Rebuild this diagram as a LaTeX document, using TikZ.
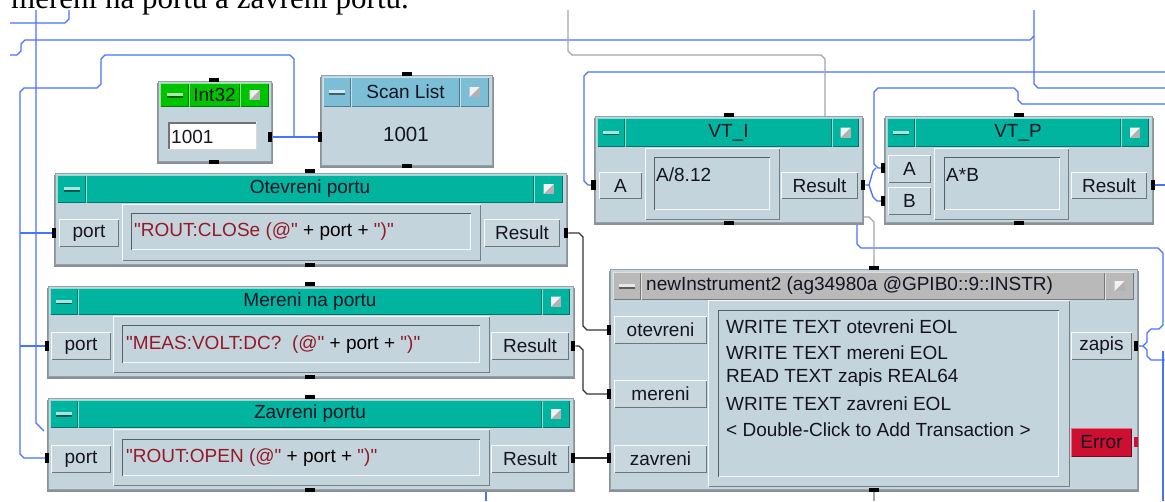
\documentclass[tikz,border=0pt]{standalone}
\usepackage{fontspec}
\setmainfont{Liberation Sans}
\newfontfamily\docserif{Liberation Serif}
\pgfdeclarelayer{back}
\pgfdeclarelayer{bg}
\pgfsetlayers{back,bg,main}
\definecolor{bodyc}{RGB}{196,212,220}
\definecolor{labc}{RGB}{200,215,222}
\definecolor{edgec}{RGB}{150,162,168}
\definecolor{shadc}{RGB}{135,145,150}
\definecolor{tealc}{RGB}{0,180,160}
\definecolor{greenc}{RGB}{0,195,0}
\definecolor{scanc}{RGB}{125,190,215}
\definecolor{greyt}{RGB}{185,185,185}
\definecolor{errc}{RGB}{205,15,50}
\definecolor{wireb}{RGB}{70,115,255}
\definecolor{wireg}{RGB}{165,165,165}
\definecolor{strc}{RGB}{150,25,40}
\definecolor{txtc}{RGB}{20,20,35}
\newcommand\vf{\fontsize{19}{22}\selectfont}
\newcommand\dq{\XeTeXglyph\XeTeXcharglyph"22\relax}
\newcommand\rnode[7]{%
  \pgfmathsetmacro\rw{(#5)-(#3)}%
  \pgfmathsetmacro\rh{(#6)-(#4)}%
  \node[inner sep=0pt, outer sep=0pt, minimum width=\rw pt, minimum height=\rh pt, anchor=north west, #1] (#2) at (#3,#4) {#7};}
\newcommand\bevel[3]{%
  \draw[#2, line width=1pt] ([xshift=0.5pt,yshift=0.5pt]#1.south west) -- ([xshift=0.5pt,yshift=-0.5pt]#1.north west) -- ([xshift=-0.5pt,yshift=-0.5pt]#1.north east);
  \draw[#3, line width=1pt] ([xshift=0.5pt,yshift=0.5pt]#1.south west) -- ([xshift=-0.5pt,yshift=0.5pt]#1.south east) -- ([xshift=-0.5pt,yshift=-0.5pt]#1.north east);}
\newcommand\vpanel[5]{%
  \fill[shadc] (#2-1,#3+2) rectangle (#4+2,#5+2.5);
  \rnode{fill=bodyc, draw=edgec, line width=1pt}{#1}{#2}{#3}{#4}{#5}{}}
\newcommand\tbar[8]{%
  \rnode{fill=#2}{#1-m}{#3}{#4}{#3+#7}{#6}{}
  \bevel{#1-m}{#2!45!white}{#2!65!black}
  \rnode{fill=#2}{#1-t}{#3+#7}{#4}{#5-#8}{#6}{}
  \bevel{#1-t}{#2!45!white}{#2!65!black}
  \rnode{fill=#2}{#1-b}{#5-#8}{#4}{#5}{#6}{}
  \bevel{#1-b}{#2!45!white}{#2!65!black}
  \fill[#2!35!white] ([xshift=-8pt,yshift=2pt]#1-m.center) rectangle ([xshift=8pt,yshift=-1pt]#1-m.center);
  \fill[#2!50!black] ([xshift=-8pt,yshift=-1pt]#1-m.center) rectangle ([xshift=8pt,yshift=-2.5pt]#1-m.center);
  \fill[gray!60] ([xshift=-5pt,yshift=-5pt]#1-b.center) rectangle ([xshift=5pt,yshift=5pt]#1-b.center);
  \fill[white!90!gray] ([xshift=-5pt,yshift=-5pt]#1-b.center) -- ([xshift=-5pt,yshift=5pt]#1-b.center) -- ([xshift=5pt,yshift=5pt]#1-b.center) -- cycle;}
\newcommand\vlabel[6]{%
  \rnode{fill=labc, font=\vf, text=txtc}{#1}{#2}{#3}{#4}{#5}{#6}
  \bevel{#1}{white!85!labc}{black!45!labc}}
\newcommand\vraised[5]{%
  \rnode{fill=bodyc}{#1}{#2}{#3}{#4}{#5}{}
  \bevel{#1}{white!85!bodyc}{black!40!bodyc}}
\newcommand\vfield[5]{%
  \rnode{fill=bodyc}{#1}{#2}{#3}{#4}{#5}{}
  \bevel{#1}{black!55!bodyc}{white!85!bodyc}}
\begin{document}
\frenchspacing
\begin{tikzpicture}[x=1pt,y=-1pt,
  wire/.style={line width=1.3pt},
  bw/.style={wire, draw=wireb},
  gw/.style={wire, draw=wireg},
  kw/.style={wire, draw=black!80},
  pinv/.style={fill=black, minimum width=4.5pt, minimum height=10pt, inner sep=0pt, outer sep=0pt},
  pinh/.style={fill=black, minimum width=10.5pt, minimum height=4pt, inner sep=0pt, outer sep=0pt},
  ttl/.style={font=\vf, text=txtc, inner sep=0pt},
  strtxt/.style={font=\vf, text=black, inner sep=0pt, anchor=west}]
\useasboundingbox (0,0) rectangle (1165,501);
\begin{pgfonlayer}{back}\fill[white] (0,0) rectangle (1165,501);\end{pgfonlayer}

\node[font=\docserif\fontsize{31}{36}\selectfont, anchor=base west, inner sep=0pt] (doc) at (11,8.5) {měření na portu a zavření portu.};

% ---------- Int32
\vpanel{i32}{158}{81}{271}{161}
\tbar{i32}{greenc}{160}{83}{269}{107}{29}{29}
\node[ttl] at (i32-t) {Int32};
\rnode{fill=white}{i32-f}{168}{122}{257}{150}{}
\draw[black!55, line width=2pt] (169,149) -- (169,123) -- (256,123);
\draw[white!85!black, line width=1pt] (168.5,149.5) -- (256.5,149.5) -- (256.5,123);
\node[ttl, anchor=west] (i32-v) at (171,137) {1001};
\node[pinh] (i32-top) at (214,80) {};
\node[pinh] (i32-bot) at (214,162) {};
\node[pinv] (i32-out) at (270,137) {};

% ---------- Scan List
\vpanel{sl}{321}{75}{492}{165}
\tbar{sl}{scanc}{323}{77}{489}{107}{28}{29}
\node[ttl] at (sl-t) {Scan List};
\node[ttl, font=\fontsize{20.5}{24}\selectfont] (sl-v) at (406,134) {1001};
\node[pinh] (sl-top) at (407,74) {};
\node[pinh] (sl-bot) at (407,166) {};
\node[pinv] (sl-in) at (320,137) {};

% ---------- Otevreni portu
\vpanel{ot}{55}{173}{566}{264}
\tbar{ot}{tealc}{57}{175}{563}{203}{29}{29}
\node[ttl] at (ot-t) {Otevreni portu};
\vlabel{ot-pl}{59}{219}{119}{247}{port}
\vraised{ot-fo}{122}{204}{481}{261}
\vfield{ot-ff}{131}{213}{471}{250}
\node[strtxt] (ot-x) at (134,232) {\textcolor{strc}{\dq ROUT:CLOSe (@\dq} + port + \textcolor{strc}{\dq)\dq}};
\vlabel{ot-rl}{484}{219}{560}{247}{Result}
\node[pinh] (ot-top) at (310,171) {};
\node[pinh] (ot-bot) at (310,265) {};
\node[pinv] (ot-in) at (54,233) {};
\node[pinv] (ot-out) at (566,233) {};

% ---------- Mereni na portu
\vpanel{me}{48}{286}{573}{376}
\tbar{me}{tealc}{50}{288}{570}{315}{28}{28}
\node[ttl] at (me-t) {Mereni na portu};
\vlabel{me-pl}{51}{332}{111}{360}{port}
\vraised{me-fo}{113}{316}{490}{373}
\vfield{me-ff}{122}{325}{480}{363}
\node[strtxt] (me-x) at (126,345) {\textcolor{strc}{\dq MEAS:VOLT:DC?\ \ (@\dq} + port + \textcolor{strc}{\dq)\dq}};
\vlabel{me-rl}{491}{332}{569}{360}{Result}
\node[pinh] (me-top) at (310,284) {};
\node[pinh] (me-bot) at (310,377) {};
\node[pinv] (me-in) at (47,346) {};
\node[pinv] (me-out) at (573,346) {};

% ---------- Zavreni portu
\vpanel{za}{48}{398}{573}{489}
\tbar{za}{tealc}{50}{400}{570}{428}{28}{28}
\node[ttl] at (za-t) {Zavreni portu};
\vlabel{za-pl}{51}{445}{111}{473}{port}
\vraised{za-fo}{113}{429}{490}{486}
\vfield{za-ff}{122}{439}{480}{476}
\node[strtxt] (za-x) at (126,458) {\textcolor{strc}{\dq ROUT:OPEN (@\dq} + port + \textcolor{strc}{\dq)\dq}};
\vlabel{za-rl}{491}{445}{569}{473}{Result}
\node[pinh] (za-top) at (310,397) {};
\node[pinh] (za-bot) at (310,490) {};
\node[pinv] (za-in) at (47,458) {};
\node[pinv] (za-out) at (573,458) {};

% ---------- VT_I
\vpanel{vti}{595}{116}{862}{222}
\tbar{vti}{tealc}{597}{118}{859}{147}{28}{27}
\node[ttl] at (vti-t) {VT\_I};
\vlabel{vti-al}{599}{172}{642}{199}{A}
\vraised{vti-fo}{645}{148}{780}{220}
\vfield{vti-ff}{654}{157}{770}{210}
\node[ttl, anchor=west] (vti-x) at (656,175) {A/8.12};
\vlabel{vti-rl}{781}{172}{858}{199}{Result}
\node[pinh] (vti-top) at (729,115) {};
\node[pinh] (vti-bot) at (729,223) {};
\node[pinv] (vti-in) at (593.5,185) {};
\node[pinv] (vti-out) at (863,185) {};

% ---------- VT_P
\vpanel{vtp}{885}{116}{1152}{222}
\tbar{vtp}{tealc}{887}{118}{1149}{147}{28}{28}
\node[ttl] at (vtp-t) {VT\_P};
\vlabel{vtp-al}{888}{155}{931}{183}{A}
\vlabel{vtp-bl}{888}{187}{931}{215}{B}
\vraised{vtp-fo}{934}{148}{1069}{220}
\vfield{vtp-ff}{944}{157}{1060}{210}
\node[ttl, anchor=west] (vtp-x) at (946,175) {A*B};
\vlabel{vtp-rl}{1071}{172}{1147}{199}{Result}
\node[pinh] (vtp-top) at (1019,115) {};
\node[pinh] (vtp-bot) at (1019,223) {};
\node[pinv] (vtp-a) at (883,168) {};
\node[pinv] (vtp-b) at (883,201) {};
\node[pinv] (vtp-out) at (1153,185) {};

% ---------- newInstrument2
\vpanel{ni}{610}{269}{1137}{489}
\tbar{ni}{greyt}{613}{272}{1134}{300}{28}{29}
\node[ttl, anchor=west] (ni-tt) at (646,286) {newInstrument2 (ag34980a @GPIB0::9::INSTR)};
\vlabel{ni-ol}{614}{316}{707}{344}{otevreni}
\vlabel{ni-ml}{614}{380}{707}{408}{mereni}
\vlabel{ni-zl}{614}{445}{707}{473}{zavreni}
\vraised{ni-to}{708}{300}{1070}{487}
\vfield{ni-tf}{718}{310}{1059}{477}
\node[ttl, anchor=west] (ni-l1) at (726,327) {WRITE TEXT otevreni EOL};
\node[ttl, anchor=west] (ni-l2) at (726,353) {WRITE TEXT mereni EOL};
\node[ttl, anchor=west] (ni-l3) at (726,378) {READ TEXT zapis REAL64};
\node[ttl, anchor=west] (ni-l4) at (726,404) {WRITE TEXT zavreni EOL};
\node[ttl, anchor=west] (ni-l5) at (726,430) {< Double-Click to Add Transaction >};
\vlabel{ni-zpl}{1071}{332}{1132}{360}{zapis}
\rnode{fill=errc, font=\vf, text=txtc}{ni-el}{1071}{428}{1132}{457}{Error}
\bevel{ni-el}{errc!60!white}{errc!60!black}
\node[pinh] (ni-top) at (874,268) {};
\node[pinh] (ni-bot) at (874,490) {};
\node[pinv] (ni-ot) at (609,330) {};
\node[pinv] (ni-me) at (609,394) {};
\node[pinv] (ni-za) at (609,458) {};
\node[pinv] (ni-zp) at (1136,346) {};
\node[pinv, fill=errc] (ni-er) at (1136,442) {};

% ---------- wires
\begin{pgfonlayer}{bg}
\coordinate (j1) at (294,137);
\draw[bw] (i32-out.east) -- (sl-in.west);
\draw[bw] (j1) -- (294,59) -- (290,55) -- (105,55) -- (101,59) -- (101,84) -- (97,88) -- (24,88) -- (20,92) -- (20,454) -- (24,458) -- (za-in.west);
\draw[bw] (20,233) -- (ot-in.west);
\draw[bw] (20,346) -- (me-in.west);
\coordinate (e1) at (10,23); \coordinate (e1b) at (69,10);
\draw[bw] (e1) -- (65,23) -- (69,19) -- (e1b);
\coordinate (e2) at (36,10); \coordinate (e2b) at (44,431);
\draw[bw] (e2) -- (36,423) -- (e2b);
\coordinate (e3) at (10,55); \coordinate (e3b) at (1034,36);
\draw[bw] (e3) -- (17,55) -- (21,51) -- (21,44) -- (25,40) -- (1030,40) -- (e3b);
\coordinate (e4) at (1034,10); \coordinate (e4b) at (1165,88);
\draw[bw] (e4) -- (1034,84) -- (1038,88) -- (e4b);
\coordinate (e5) at (1165,72);
\draw[bw] (e5) -- (588,72) -- (584,76) -- (584,181) -- (588,185) -- (vti-in.west);
\coordinate (e6) at (1165,104);
\draw[bw] (e6) -- (1022,104) -- (1018,100) -- (1018,92) -- (1014,88) -- (878,88) -- (874,92) -- (874,164) -- (878,168) -- (vtp-a.west);
\draw[bw] (vti-out.east) -- (869,185) -- (873,171) -- (876,168);
\draw[bw] (869,185) -- (873,197) -- (877,201) -- (vtp-b.west);
\coordinate (e7) at (857,224); \coordinate (e7b) at (1165,360); \coordinate (e7c) at (1163,501);
\draw[bw] (e7) -- (857,244) -- (861,248) -- (1158,248) -- (1163,253) -- (1163,325) -- (1159,329) -- (1151,329) -- (1147,333) -- (1147,342) -- (1143,346) -- (ni-zp.east);
\draw[bw] (1143,346) -- (1147,350) -- (1147,356) -- (1151,360) -- (e7b);
\draw[bw] (1163,351) -- (e7c);
\coordinate (e8) at (1165,185);
\draw[bw] (vtp-out.east) -- (e8);
\coordinate (e9) at (486,492); \coordinate (e9b) at (486,501);
\draw[bw] (e9) -- (e9b);
\coordinate (g1) at (568,10); \coordinate (g1b) at (825,117);
\draw[gw] (g1) -- (568,51) -- (572,55) -- (821,55) -- (825,59) -- (g1b);
\coordinate (g2) at (862,217);
\draw[gw] (g2) -- (869,217) -- (874,222) -- (ni-top.north);
\coordinate (g3) at (874,501);
\draw[gw] (ni-bot.south) -- (g3);
\draw[kw] (ot-out.east) -- (579,233) -- (583,237) -- (583,326) -- (587,330) -- (ni-ot.west);
\draw[kw] (me-out.east) -- (579,346) -- (583,350) -- (583,390) -- (587,394) -- (ni-me.west);
\draw[kw] (za-out.east) -- (ni-za.west);
\end{pgfonlayer}
\end{tikzpicture}
\end{document}
